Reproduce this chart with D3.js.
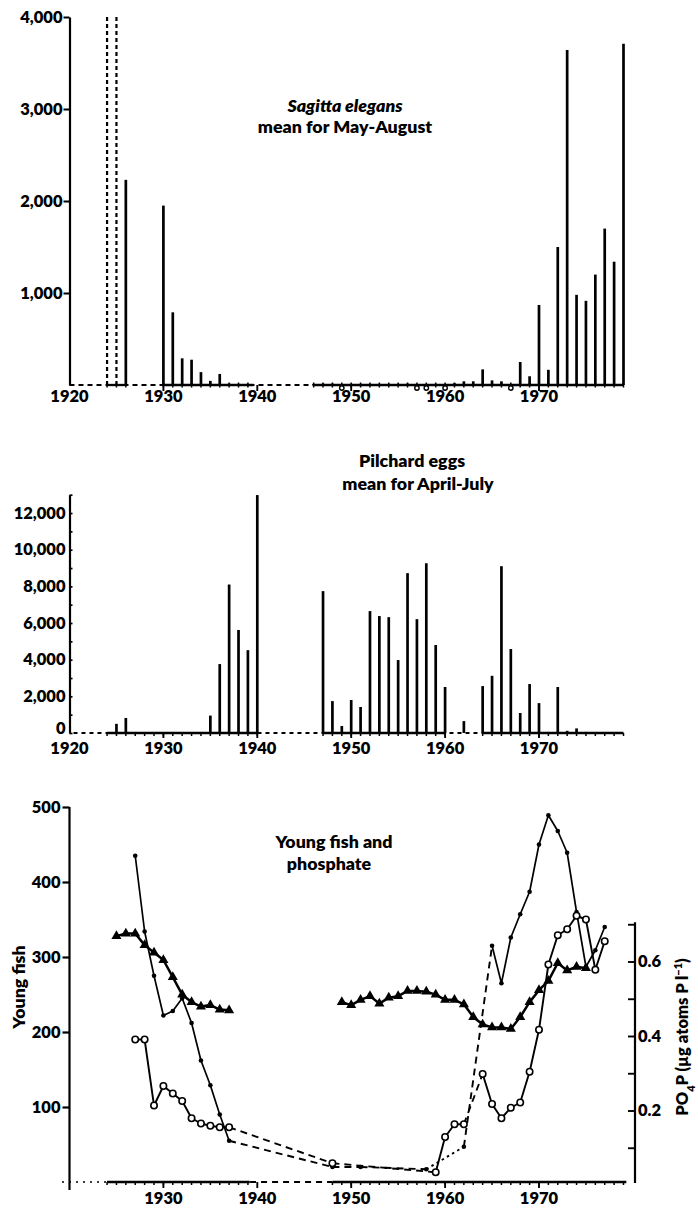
<!DOCTYPE html>
<html>
<head>
<meta charset="utf-8">
<script src="https://cdn.jsdelivr.net/npm/d3@7"></script>
<style>
  body { margin: 0; background: #fff; }
  svg { display: block; }
  text { font-family: Lato, "Open Sans", "DejaVu Sans", sans-serif; font-weight: 800; fill: #000; }
</style>
</head>
<body>
<svg id="chart" width="698" height="1209"></svg>
<script>
// ---- Sagitta elegans, mean for May-August ----
const sagittaYears  = [1926,1930,1931,1932,1933,1934,1935,1936,1937,1938,1939,1946,1947,1948,1950,1951,1952,1953,1954,1955,1956,1959,1961,1962,1963,1964,1965,1966,1968,1969,1970,1971,1972,1973,1974,1975,1976,1977,1978,1979];
const sagittaValues = [2230,1950,790,290,275,140,45,120,15,12,12,12,15,15,12,12,12,12,12,12,15,12,20,40,40,170,50,40,250,95,870,165,1500,3640,980,915,1200,1700,1340,3710];
const sagittaOffScale = [1924, 1925];            // values beyond the top of the scale
const sagittaNil = [1949, 1957, 1958, 1960, 1967]; // sampled, none found
const sagittaSampled = [[1924, 1926], [1930, 1939.6], [1946, 1979]];
const sagittaTicks = [1000, 2000, 3000, 4000];

// ---- Pilchard eggs, mean for April-July ----
const pilchardYears  = [1925,1926,1935,1936,1937,1938,1939,1940,1947,1948,1949,1950,1951,1952,1953,1954,1955,1956,1957,1958,1959,1960,1962,1964,1965,1966,1967,1968,1969,1970,1971,1972,1973,1974,1975,1976,1977,1978];
const pilchardValues = [500,820,950,3760,8100,5620,4520,12980,7740,1740,380,1800,1420,6650,6380,6320,3980,8720,6210,9260,4800,2510,650,2560,3120,9100,4580,1090,2670,1630,60,2510,120,250,60,40,40,40];
const pilchardSampled = [[1924, 1940], [1947, 1960], [1964, 1979]];
const pilchardTicks = [0, 2000, 4000, 6000, 8000, 10000, 12000];

// ---- Young fish (filled dots) ----
const fishDotYears  = [1927,1928,1929,1930,1931,1932,1933,1934,1935,1936,1937,1948,1951,1958,1962,1965,1966,1967,1968,1969,1970,1971,1972,1973,1974,1975,1976,1977];
const fishDotValues = [435,334,275,222,228,245,212,162,129,90,55,20,20,17,47,315,265,326,357,387,450,489,468,439,360,287,309,340];
const fishDotDashedFrom = [1937, 1948, 1951, 1962];
const fishDotDottedFrom = [1958];

// ---- Young fish (open circles) ----
const fishRingYears  = [1927,1928,1929,1930,1931,1932,1933,1934,1935,1936,1937,1948,1959,1960,1961,1962,1964,1965,1966,1967,1968,1969,1970,1971,1972,1973,1974,1975,1976,1977];
const fishRingValues = [190,190,102,128,118,108,85,78,75,73,73,25,13,60,77,77,144,104,85,99,106,147,203,290,329,337,355,350,283,321];
const fishRingDashedFrom = [1937, 1948, 1962];

// ---- Winter phosphate, PO4-P (µg atoms P l-1) ----
const phosphateYears  = [1925,1926,1927,1928,1929,1930,1931,1932,1933,1934,1935,1936,1937,1949,1950,1951,1952,1953,1954,1955,1956,1957,1958,1959,1960,1961,1962,1963,1964,1965,1966,1967,1968,1969,1970,1971,1972,1973,1974,1975];
const phosphateValues = [0.668,0.675,0.675,0.644,0.624,0.604,0.558,0.511,0.491,0.479,0.483,0.471,0.469,0.491,0.483,0.497,0.507,0.487,0.503,0.507,0.521,0.521,0.519,0.511,0.497,0.497,0.485,0.451,0.431,0.423,0.423,0.419,0.451,0.491,0.523,0.548,0.596,0.576,0.586,0.582];
const phosphateGapFrom = [1937];

const fishTicks = [100, 200, 300, 400, 500];
const phosphateTicks = [0.1, 0.2, 0.3, 0.4, 0.5, 0.6, 0.7];
const phosphateLabelled = [0.2, 0.4, 0.6];
const decades = [1920, 1930, 1940, 1950, 1960, 1970];

const INK = "#000";
const TICK_FONT = 16.5;
const TITLE_FONT = 17.8;
const svg = d3.select("#chart");

// shared time scale
const x = d3.scaleLinear().domain([1920, 1979]).range([69.5, 623.5]);

// panel scales
const ySag = d3.scaleLinear().domain([0, 4000]).range([385, 17]);
const yPil = d3.scaleLinear().domain([0, 13000]).range([733, 494.7]);
const yFish = d3.scaleLinear().domain([0, 500]).range([1182, 807]);
const yPhos = d3.scaleLinear().domain([0, 0.7]).range([1185, 924.25]);

// Baseline that is solid over sampled years and broken elsewhere
function timeAxis(g, y0, spans, from, to, dash, up, down, big) {
  g.append("line")
    .attr("x1", from).attr("x2", to).attr("y1", y0).attr("y2", y0)
    .attr("stroke", INK).attr("stroke-width", 1.9).attr("stroke-dasharray", dash);
  spans.forEach(([a, b]) => {
    g.append("line")
      .attr("x1", x(a)).attr("x2", x(b)).attr("y1", y0).attr("y2", y0)
      .attr("stroke", INK).attr("stroke-width", 2.3);
    g.selectAll(null).data(d3.range(Math.ceil(a), Math.floor(b) + 1)).join("line")
      .attr("x1", d => x(d)).attr("x2", d => x(d))
      .attr("y1", y0 - up).attr("y2", y0 + down)
      .attr("stroke", INK).attr("stroke-width", 1.5);
  });
  g.selectAll(null).data(decades.filter(d => d > 1920)).join("line")
    .attr("x1", d => x(d)).attr("x2", d => x(d))
    .attr("y1", y0).attr("y2", y0 + big)
    .attr("stroke", INK).attr("stroke-width", 1.9);
}

function yearLabels(g, yBase, list) {
  g.selectAll(null).data(list).join("text")
    .attr("x", d => x(d)).attr("y", yBase)
    .attr("text-anchor", "middle").style("font-size", TICK_FONT + "px")
    .text(d => d);
}

function styleAxisText(g) {
  g.selectAll(".tick text").style("font-size", TICK_FONT + "px").attr("fill", INK);
  g.selectAll("path.domain, .tick line").attr("stroke", INK);
}

// ================= Sagitta elegans =================
const sagPanel = svg.append("g");
const sagAxis = sagPanel.append("g").attr("transform", `translate(${x(1920)},0)`)
  .call(d3.axisLeft(ySag).tickValues(sagittaTicks).tickFormat(d3.format(",")).tickSize(6).tickSizeOuter(0).tickPadding(1));
sagAxis.select("path.domain").attr("stroke-width", 2.2);
sagAxis.selectAll(".tick line").attr("stroke-width", 2);
styleAxisText(sagAxis);

timeAxis(sagPanel, ySag(0), sagittaSampled, x(1920), x(1979), "5,4", 2.5, 2.5, 6);

sagPanel.selectAll(null).data(sagittaOffScale).join("line")
  .attr("x1", d => x(d)).attr("x2", d => x(d))
  .attr("y1", ySag(0)).attr("y2", ySag(4000))
  .attr("stroke", INK).attr("stroke-width", 2.2).attr("stroke-dasharray", "4,3");

sagPanel.selectAll(null).data(sagittaYears).join("line")
  .attr("x1", d => x(d)).attr("x2", d => x(d))
  .attr("y1", ySag(0)).attr("y2", (d, i) => ySag(sagittaValues[i]))
  .attr("stroke", INK).attr("stroke-width", 2.7);

sagPanel.selectAll(null).data(sagittaNil).join("circle")
  .attr("cx", d => x(d)).attr("cy", ySag(0) + 3).attr("r", 2.2)
  .attr("fill", "#fff").attr("stroke", INK).attr("stroke-width", 1.4);

yearLabels(sagPanel, 402, decades);

const t1 = sagPanel.append("text").attr("text-anchor", "middle").style("font-size", TITLE_FONT + "px");
t1.append("tspan").attr("x", 345).attr("y", 112).style("font-style", "italic").text("Sagitta elegans");
t1.append("tspan").attr("x", 345).attr("y", 133).text("mean for May-August");

// ================= Pilchard eggs =================
const pilPanel = svg.append("g");
const pilAxis = pilPanel.append("g").attr("transform", `translate(${x(1920)},0)`)
  .call(d3.axisLeft(yPil).tickValues(d3.range(0, 13001, 1000))
    .tickFormat(d => pilchardTicks.includes(d) ? d3.format(",")(d) : "")
    .tickSize(-3).tickSizeOuter(0).tickPadding(4));
pilAxis.select("path.domain").attr("stroke-width", 2.2);
pilAxis.selectAll(".tick line").attr("stroke-width", 1.7);
styleAxisText(pilAxis);
// the zero label sits a little above its tick, clear of the year row below
pilAxis.selectAll(".tick").filter(d => d === 0).select("text").attr("y", -4.5);

timeAxis(pilPanel, yPil(0), pilchardSampled, x(1920) + 4, x(1979), "4,4", 0, 3, 5);

pilPanel.selectAll(null).data(pilchardYears).join("line")
  .attr("x1", d => x(d)).attr("x2", d => x(d))
  .attr("y1", yPil(0)).attr("y2", (d, i) => yPil(pilchardValues[i]))
  .attr("stroke", INK).attr("stroke-width", 2.7);

yearLabels(pilPanel, 754, decades);

const t2 = pilPanel.append("text").attr("text-anchor", "middle").style("font-size", TITLE_FONT + "px");
t2.append("tspan").attr("x", 412).attr("y", 467).text("Pilchard eggs");
t2.append("tspan").attr("x", 418).attr("y", 490).text("mean for April-July");

// ================= Young fish and phosphate =================
const fishPanel = svg.append("g");

// left axis
const fishAxis = fishPanel.append("g").attr("transform", `translate(${x(1920)},0)`)
  .call(d3.axisLeft(yFish).tickValues(fishTicks).tickSize(7).tickSizeOuter(0).tickPadding(2));
fishAxis.select("path.domain").remove();
fishAxis.selectAll(".tick line").attr("stroke-width", 2.2);
styleAxisText(fishAxis);
fishPanel.append("line").attr("x1", x(1920)).attr("x2", x(1920))
  .attr("y1", yFish(500)).attr("y2", 1190).attr("stroke", INK).attr("stroke-width", 2.2);

// right axis
const phosAxis = fishPanel.append("g").attr("transform", "translate(635,0)")
  .call(d3.axisRight(yPhos).tickValues(phosphateTicks)
    .tickFormat(d => phosphateLabelled.some(v => Math.abs(v - d) < 1e-9) ? d3.format(".1f")(d) : "")
    .tickSize(-7).tickSizeOuter(0).tickPadding(3));
phosAxis.select("path.domain").remove();
phosAxis.selectAll(".tick line").attr("stroke-width", 1.9);
styleAxisText(phosAxis);
fishPanel.append("line").attr("x1", 635).attr("x2", 635)
  .attr("y1", yPhos(0.7) - 2).attr("y2", 1183).attr("stroke", INK).attr("stroke-width", 2.2);

// time axis
const yb = yFish(0);
fishPanel.append("line").attr("x1", 62).attr("x2", x(1924)).attr("y1", yb).attr("y2", yb)
  .attr("stroke", INK).attr("stroke-width", 1.6).attr("stroke-dasharray", "2,5");
timeAxis(fishPanel, yb, [[1924, 1939.2], [1948, 1979.3]], x(1924), x(1948), "6,5", 0, 3, 6);
yearLabels(fishPanel, 1204, decades.filter(d => d > 1920));

// series drawing: solid runs joined, broken links drawn one by one
function drawSeries(years, values, yScale, opts) {
  const pts = years.map((yr, i) => [x(yr), yScale(values[i])]);
  let run = [pts[0]];
  const flush = () => {
    if (run.length > 1) fishPanel.append("path").attr("d", d3.line()(run))
      .attr("fill", "none").attr("stroke", INK).attr("stroke-width", opts.width)
      .attr("stroke-linejoin", "round");
  };
  for (let i = 0; i < pts.length - 1; i++) {
    const yr = years[i];
    const kind = (opts.gap || []).includes(yr) ? "gap"
      : (opts.dotted || []).includes(yr) ? "dot"
      : (opts.dashed || []).includes(yr) ? "dash" : "solid";
    if (kind === "solid") { run.push(pts[i + 1]); continue; }
    flush();
    run = [pts[i + 1]];
    if (kind === "gap") continue;
    fishPanel.append("path").attr("d", d3.line()([pts[i], pts[i + 1]]))
      .attr("fill", "none").attr("stroke", INK).attr("stroke-width", 1.9)
      .attr("stroke-dasharray", kind === "dot" ? "2.5,3.5" : "7,5");
  }
  flush();
  return pts;
}

// phosphate: triangles
const phosPts = drawSeries(phosphateYears, phosphateValues, yPhos, { width: 2.5, gap: phosphateGapFrom });
fishPanel.selectAll(null).data(phosPts).join("path")
  .attr("transform", d => `translate(${d[0]},${d[1]})`)
  .attr("d", d3.symbol(d3.symbolTriangle).size(44))
  .attr("fill", INK);

// young fish: filled dots
const dotPts = drawSeries(fishDotYears, fishDotValues, yFish, { width: 1.7, dashed: fishDotDashedFrom, dotted: fishDotDottedFrom });
fishPanel.selectAll(null).data(dotPts).join("circle")
  .attr("cx", d => d[0]).attr("cy", d => d[1]).attr("r", 2.3).attr("fill", INK);

// young fish: open circles
const ringPts = drawSeries(fishRingYears, fishRingValues, yFish, { width: 1.9, dashed: fishRingDashedFrom });
fishPanel.selectAll(null).data(ringPts).join("circle")
  .attr("cx", d => d[0]).attr("cy", d => d[1]).attr("r", 3.2)
  .attr("fill", "#fff").attr("stroke", INK).attr("stroke-width", 1.6);

// titles
const t3 = fishPanel.append("text").attr("text-anchor", "middle").style("font-size", TITLE_FONT + "px");
t3.append("tspan").attr("x", 334).attr("y", 848).text("Young fish and");
t3.append("tspan").attr("x", 329).attr("y", 870).text("phosphate");

fishPanel.append("text")
  .attr("transform", "translate(25,987) rotate(-90)")
  .attr("text-anchor", "middle").style("font-size", TITLE_FONT + "px")
  .text("Young fish");

const pt = fishPanel.append("text")
  .attr("transform", "translate(688,1037) rotate(-90)")
  .attr("text-anchor", "middle").style("font-size", "16.5px");
pt.append("tspan").text("PO");
pt.append("tspan").attr("baseline-shift", "sub").style("font-size", "11px").text("4");
pt.append("tspan").text("P (µg atoms P l");
pt.append("tspan").attr("baseline-shift", "super").style("font-size", "11px").text("−1");
pt.append("tspan").text(")");
</script>
</body>
</html>
